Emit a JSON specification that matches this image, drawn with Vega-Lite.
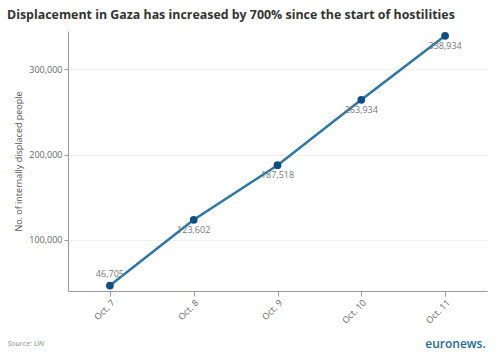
{
  "$schema": "https://vega.github.io/schema/vega-lite/v6.json",
  "background": "white",
  "autosize": "none",
  "padding": {"left": 68, "top": 31, "right": 13, "bottom": 71},
  "width": 419,
  "height": 260,
  "config": {
    "font": "Open Sans",
    "view": {"stroke": null},
    "axis": {"labelFont": "Open Sans", "titleFont": "Open Sans"}
  },
  "title": {
    "text": "Displacement in Gaza has increased by 700% since the start of hostilities",
    "anchor": "start",
    "font": "Open Sans",
    "fontSize": 12.4,
    "fontWeight": "bold",
    "color": "#333333",
    "offset": 9
  },
  "data": {
    "values": [
      {"date": "Oct. 7", "people": 46705},
      {"date": "Oct. 8", "people": 123602},
      {"date": "Oct. 9", "people": 187518},
      {"date": "Oct. 10", "people": 263934},
      {"date": "Oct. 11", "people": 338934}
    ]
  },
  "encoding": {
    "x": {
      "field": "date",
      "type": "ordinal",
      "sort": null,
      "scale": {"type": "point", "padding": 0.5},
      "axis": {
        "labelAngle": -45,
        "labelFontSize": 9,
        "labelColor": "#666666",
        "domainColor": "#999999",
        "tickColor": "#999999",
        "tickSize": 5,
        "grid": false,
        "title": "Source: UN",
        "titleFontSize": 7.5,
        "titleFontStyle": "italic",
        "titleFontWeight": "normal",
        "titleColor": "#888888",
        "titleAlign": "left",
        "titleBaseline": "middle",
        "titleX": -61,
        "titleY": 52
      }
    }
  },
  "layer": [
    {
      "layer": [
        {"mark": {"type": "line", "color": "#2b78a6", "strokeWidth": 2.5}},
        {
          "transform": [{"filter": "datum.date === 'Oct. 7'"}],
          "mark": {"type": "text", "fontSize": 9, "color": "#777777", "dy": -12, "baseline": "middle"},
          "encoding": {"text": {"field": "people", "type": "quantitative", "format": ",d"}}
        },
        {
          "transform": [{"filter": "datum.date !== 'Oct. 7'"}],
          "mark": {"type": "text", "fontSize": 9, "color": "#777777", "dy": 10, "baseline": "middle"},
          "encoding": {"text": {"field": "people", "type": "quantitative", "format": ",d"}}
        }
      ],
      "encoding": {
        "y": {
          "field": "people",
          "type": "quantitative",
          "scale": {"domain": [40300, 344500], "nice": false, "zero": false},
          "axis": {
            "values": [100000, 200000, 300000],
            "format": ",d",
            "labelFontSize": 9,
            "labelColor": "#666666",
            "domainColor": "#999999",
            "tickColor": "#999999",
            "tickSize": 4,
            "gridColor": "#f0f0f0",
            "title": "No. of internally displaced people",
            "titleFontSize": 9,
            "titleFontWeight": "normal",
            "titleColor": "#555555",
            "titlePadding": 5
          }
        }
      }
    },
    {
      "mark": {"type": "point", "filled": true, "opacity": 1, "color": "#0d4f80", "size": 60},
      "encoding": {
        "y": {
          "field": "people",
          "type": "quantitative",
          "scale": {"domain": [40300, 344500], "nice": false, "zero": false},
          "axis": {
            "orient": "right",
            "labels": false,
            "ticks": false,
            "domain": false,
            "grid": false,
            "title": "euronews.",
            "titleAngle": 0,
            "titleAlign": "center",
            "titleBaseline": "middle",
            "titleX": -32,
            "titleY": 312,
            "titleFontSize": 12,
            "titleFontWeight": 600,
            "titleColor": "#23679a"
          }
        }
      }
    }
  ],
  "resolve": {"scale": {"y": "independent"}, "axis": {"y": "independent"}}
}
